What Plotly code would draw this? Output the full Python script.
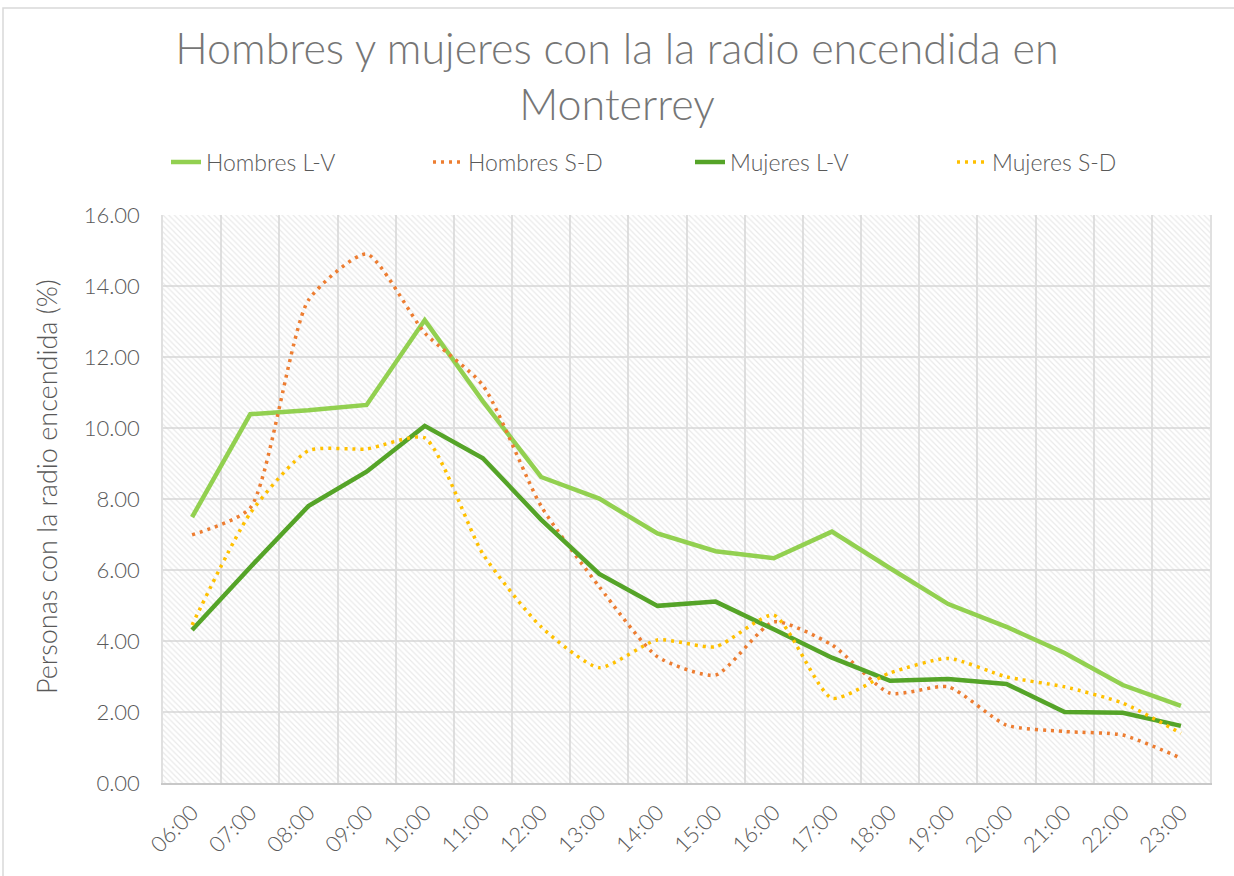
import plotly.graph_objects as go

horas = ["06:00", "07:00", "08:00", "09:00", "10:00", "11:00", "12:00", "13:00", "14:00",
         "15:00", "16:00", "17:00", "18:00", "19:00", "20:00", "21:00", "22:00", "23:00"]

hombres_lv = [7.49, 10.39, 10.50, 10.65, 13.04, 10.75, 8.62, 8.01, 7.03, 6.53, 6.33, 7.08,
              6.05, 5.04, 4.40, 3.66, 2.76, 2.17]
hombres_sd = [6.99, 7.75, 13.60, 14.90, 12.68, 11.20, 7.80, 5.53, 3.56, 3.04, 4.54, 3.89,
              2.53, 2.71, 1.63, 1.45, 1.35, 0.70]
mujeres_lv = [4.31, 6.08, 7.80, 8.77, 10.06, 9.15, 7.42, 5.89, 4.99, 5.11, 4.33, 3.53,
              2.88, 2.93, 2.79, 2.00, 1.98, 1.61]
mujeres_sd = [4.45, 7.60, 9.36, 9.41, 9.72, 6.45, 4.40, 3.25, 4.03, 3.84, 4.73, 2.39,
              3.10, 3.51, 2.99, 2.71, 2.25, 1.40]

y_max = 16
y_ticks = [0, 2, 4, 6, 8, 10, 12, 14, 16]

FONT = "Lato"
GRAY = "#595959"

fig = go.Figure()

# hatched plot-area background
fig.add_trace(go.Bar(
    x=horas, y=[y_max] * len(horas), width=1,
    marker=dict(color="rgba(0,0,0,0)", line=dict(width=0),
                pattern=dict(shape="\\", fgcolor="#d4d4d4", bgcolor="rgba(0,0,0,0)",
                             size=4, solidity=0.3)),
    hoverinfo="skip", showlegend=False))

fig.add_trace(go.Scatter(x=horas, y=hombres_lv, name="Hombres L-V", mode="lines",
                         line=dict(color="#92D050", width=4.5)))
fig.add_trace(go.Scatter(x=horas, y=hombres_sd, name="Hombres S-D", mode="lines",
                         line=dict(color="#ED7D31", width=3.5, dash="3px,5px",
                                   shape="spline", smoothing=0.6)))
fig.add_trace(go.Scatter(x=horas, y=mujeres_lv, name="Mujeres L-V", mode="lines",
                         line=dict(color="#55A428", width=4.5)))
fig.add_trace(go.Scatter(x=horas, y=mujeres_sd, name="Mujeres S-D", mode="lines",
                         line=dict(color="#FFC000", width=3.5, dash="3px,5px",
                                   shape="spline", smoothing=0.6)))

L, R, T, B = 163, 1210, 215, 783
W, H = 1234, 876
pw, ph = R - L, B - T

fig.update_layout(
    width=W, height=H,
    margin=dict(l=L, r=W - R, t=T, b=H - B, autoexpand=False),
    paper_bgcolor="white", plot_bgcolor="white",
    font=dict(family=FONT, color=GRAY, size=20, weight=300),
    title=dict(text="Hombres y mujeres con la la radio encendida en<br>Monterrey",
               x=0.5, xanchor="center", y=1 - 64 / H, yanchor="middle", yref="container",
               font=dict(family=FONT, size=43, color="#767676", weight=300)),
    legend=dict(orientation="h", x=(166 - L) / pw, xanchor="left",
                y=(B - 162) / ph, yanchor="middle",
                font=dict(family=FONT, size=23, color=GRAY, weight=300),
                entrywidth=217, entrywidthmode="pixels",
                traceorder="normal", bgcolor="rgba(0,0,0,0)"),
    showlegend=True,
    bargap=0,
    shapes=[dict(type="rect", xref="paper", yref="paper",
                 x0=(3 - L) / pw, x1=(1240 - L) / pw,
                 y0=(B - 880) / ph, y1=(B - 8) / ph,
                 line=dict(color="#d9d9d9", width=1.5), fillcolor="rgba(0,0,0,0)",
                 layer="below")],
    annotations=[dict(text="Personas con la radio encendida (%)", xref="paper", yref="paper",
                      x=(46 - L) / pw, y=(B - 487) / ph, xanchor="center", yanchor="middle",
                      textangle=-90, showarrow=False,
                      font=dict(family=FONT, size=27, color=GRAY, weight=300))],
)

fig.update_xaxes(type="category", tickson="boundaries", showgrid=True, gridcolor="#e0e0e0",
                 gridwidth=1.5, showline=True, linecolor="#c8c8c8", linewidth=2,
                 ticks="", tickangle=-45, automargin=False, ticklabelstandoff=6,
                 tickfont=dict(family=FONT, size=22, color=GRAY, weight=300),
                 range=[-0.5, len(horas) - 0.5])
fig.update_yaxes(range=[0, y_max], tickvals=y_ticks, tickformat=".2f", showgrid=True,
                 gridcolor="#e0e0e0", gridwidth=1.5, zeroline=False, showline=True,
                 linecolor="#e0e0e0", linewidth=1.5, mirror=True, ticks="", automargin=False,
                 ticklabelstandoff=17,
                 tickfont=dict(family=FONT, size=22, color=GRAY, weight=300))

fig.write_html("out.html", config={"displayModeBar": False},
               post_script="document.body.style.margin='0';")
